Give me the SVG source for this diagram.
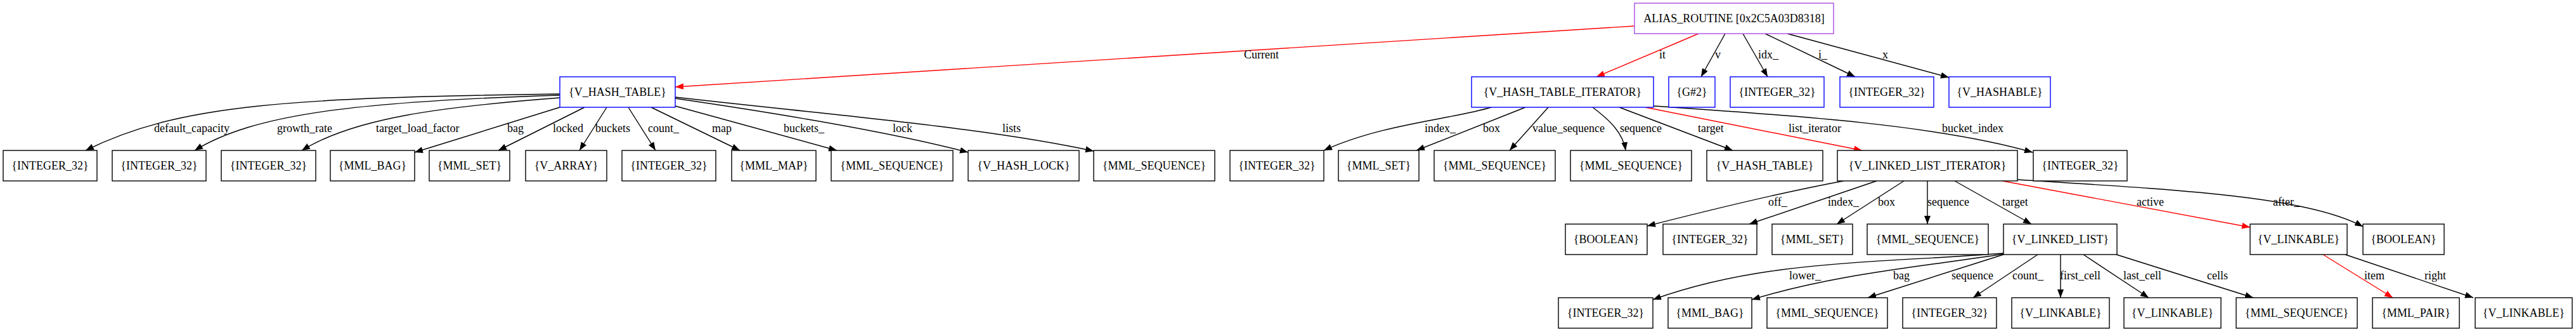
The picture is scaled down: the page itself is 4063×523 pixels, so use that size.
<svg xmlns="http://www.w3.org/2000/svg" width="4063" height="523" viewBox="0 0 4063 523">
<style>
text{font-family:"Liberation Serif","Times New Roman",serif;font-size:18px;fill:#000}
.n rect{fill:#fff;stroke:#000;stroke-width:1.4}
.b rect{stroke:#0000ff}
.p rect{stroke:#a84ee0}
.n text{text-anchor:middle}
.e path{fill:none;stroke:#000;stroke-width:1.4;marker-end:url(#ab)}
.e path.r{stroke:#ff0000;marker-end:url(#ar)}
</style>
<defs>
<marker id="ab" markerUnits="userSpaceOnUse" markerWidth="14" markerHeight="10" refX="13" refY="5" orient="auto"><path d="M0,0 L13,5 L0,10 z" fill="#000"/></marker>
<marker id="ar" markerUnits="userSpaceOnUse" markerWidth="14" markerHeight="10" refX="13" refY="5" orient="auto"><path d="M0,0 L13,5 L0,10 z" fill="#ff0000"/></marker>
</defs>
<rect width="4063" height="523" fill="#fff"/>
<g id="edges" class="e">
<path class="r" d="M2578,41 L1065,137"/>
<path class="r" d="M2679,53 L2518,121"/>
<path d="M2721,53 L2683,121"/>
<path d="M2749,53 L2788,121"/>
<path d="M2784,53 L2926,121"/>
<path d="M2819,53 L3074,122"/>
<path d="M883,148 C450,154 280,165 135,237"/>
<path d="M883,150 C560,160 400,180 307,237"/>
<path d="M883,154 C700,168 560,185 476,237"/>
<path d="M883,169 L654,240"/>
<path d="M922,169 L786,237"/>
<path d="M957,169 L914,237"/>
<path d="M991,169 L1034,237"/>
<path d="M1027,169 L1167,237"/>
<path d="M1065,167 L1320,237"/>
<path d="M1065,155 C1250,182 1420,212 1527,240"/>
<path d="M1065,153 C1300,180 1550,200 1725,238"/>
<path d="M2352,169 C2290,188 2180,195 2088,237"/>
<path d="M2406,169 L2234,237"/>
<path d="M2442,169 L2381,237"/>
<path d="M2512,169 C2540,190 2560,210 2564,237"/>
<path d="M2554,169 L2733,237"/>
<path class="r" d="M2595,169 L2937,237"/>
<path d="M2608,167 C2800,180 3050,195 3206,240"/>
<path d="M2908,285 C2800,305 2680,335 2598,356"/>
<path d="M2960,285 L2759,353"/>
<path d="M3003,285 L2897,353"/>
<path d="M3040,285 L3040,353"/>
<path d="M3083,285 L3204,353"/>
<path class="r" d="M3158,285 L3549,358"/>
<path d="M3182,283 C3450,300 3640,310 3727,357"/>
<path d="M3160,399 C2950,415 2780,410 2607,472"/>
<path d="M3160,400 C3050,418 2900,430 2763,472"/>
<path d="M3160,401 L2946,469"/>
<path d="M3214,401 L3112,469"/>
<path d="M3250,401 L3250,469"/>
<path d="M3286,401 L3389,469"/>
<path d="M3338,401 L3554,469"/>
<path class="r" d="M3664,401 L3774,469"/>
<path d="M3699,401 L3901,469"/>
</g>
<g id="edge-labels">
<text x="1962" y="92">Current</text>
<text x="2617" y="92">it</text>
<text x="2705" y="92">v</text>
<text x="2773" y="92">idx_</text>
<text x="2868" y="92">i_</text>
<text x="2969" y="92">x</text>
<text x="243" y="208">default_capacity</text>
<text x="437" y="208">growth_rate</text>
<text x="593" y="208">target_load_factor</text>
<text x="800" y="208">bag</text>
<text x="872" y="208">locked</text>
<text x="939" y="208">buckets</text>
<text x="1022" y="208">count_</text>
<text x="1123" y="208">map</text>
<text x="1236" y="208">buckets_</text>
<text x="1408" y="208">lock</text>
<text x="1581" y="208">lists</text>
<text x="2247" y="208">index_</text>
<text x="2339" y="208">box</text>
<text x="2417" y="208">value_sequence</text>
<text x="2555" y="208">sequence</text>
<text x="2678" y="208">target</text>
<text x="2821" y="208">list_iterator</text>
<text x="3063" y="208">bucket_index</text>
<text x="2789" y="324">off_</text>
<text x="2883" y="324">index_</text>
<text x="2962" y="324">box</text>
<text x="3040" y="324">sequence</text>
<text x="3158" y="324">target</text>
<text x="3370" y="324">active</text>
<text x="3585" y="324">after_</text>
<text x="2822" y="440">lower_</text>
<text x="2986" y="440">bag</text>
<text x="3078" y="440">sequence</text>
<text x="3174" y="440">count_</text>
<text x="3249" y="440">first_cell</text>
<text x="3349" y="440">last_cell</text>
<text x="3481" y="440">cells</text>
<text x="3729" y="440">item</text>
<text x="3824" y="440">right</text>
</g>
<g id="root" class="n p"><rect x="2578" y="5" width="314" height="48"/><text x="2735" y="34.5">ALIAS_ROUTINE [0x2C5A03D8318]</text></g>
<g id="vht" class="n b"><rect x="883" y="121" width="182" height="48"/><text x="974" y="150.5">{V_HASH_TABLE}</text></g>
<g id="vhti" class="n b"><rect x="2321" y="121" width="287" height="48"/><text x="2464.5" y="150.5">{V_HASH_TABLE_ITERATOR}</text></g>
<g id="g2" class="n b"><rect x="2632" y="121" width="73" height="48"/><text x="2668.5" y="150.5">{G#2}</text></g>
<g id="idx" class="n b"><rect x="2729" y="121" width="148" height="48"/><text x="2803" y="150.5">{INTEGER_32}</text></g>
<g id="iv" class="n b"><rect x="2902" y="121" width="148" height="48"/><text x="2976" y="150.5">{INTEGER_32}</text></g>
<g id="xv" class="n b"><rect x="3074" y="121" width="160" height="48"/><text x="3154" y="150.5">{V_HASHABLE}</text></g>
<g id="r3a" class="n"><rect x="5" y="237" width="148" height="48"/><text x="79" y="266.5">{INTEGER_32}</text></g>
<g id="r3b" class="n"><rect x="177" y="237" width="148" height="48"/><text x="251" y="266.5">{INTEGER_32}</text></g>
<g id="r3c" class="n"><rect x="349" y="237" width="149" height="48"/><text x="423.5" y="266.5">{INTEGER_32}</text></g>
<g id="r3d" class="n"><rect x="521" y="237" width="133" height="48"/><text x="587.5" y="266.5">{MML_BAG}</text></g>
<g id="r3e" class="n"><rect x="677" y="237" width="127" height="48"/><text x="740.5" y="266.5">{MML_SET}</text></g>
<g id="r3f" class="n"><rect x="829" y="237" width="128" height="48"/><text x="893" y="266.5">{V_ARRAY}</text></g>
<g id="r3g" class="n"><rect x="981" y="237" width="148" height="48"/><text x="1055" y="266.5">{INTEGER_32}</text></g>
<g id="r3h" class="n"><rect x="1154" y="237" width="133" height="48"/><text x="1220.5" y="266.5">{MML_MAP}</text></g>
<g id="r3i" class="n"><rect x="1311" y="237" width="192" height="48"/><text x="1407" y="266.5">{MML_SEQUENCE}</text></g>
<g id="r3j" class="n"><rect x="1527" y="237" width="175" height="48"/><text x="1614.5" y="266.5">{V_HASH_LOCK}</text></g>
<g id="r3k" class="n"><rect x="1725" y="237" width="191" height="48"/><text x="1820.5" y="266.5">{MML_SEQUENCE}</text></g>
<g id="r3l" class="n"><rect x="1940" y="237" width="148" height="48"/><text x="2014" y="266.5">{INTEGER_32}</text></g>
<g id="r3m" class="n"><rect x="2111" y="237" width="127" height="48"/><text x="2174.5" y="266.5">{MML_SET}</text></g>
<g id="r3n" class="n"><rect x="2262" y="237" width="191" height="48"/><text x="2357.5" y="266.5">{MML_SEQUENCE}</text></g>
<g id="r3o" class="n"><rect x="2477" y="237" width="191" height="48"/><text x="2572.5" y="266.5">{MML_SEQUENCE}</text></g>
<g id="r3p" class="n"><rect x="2692" y="237" width="183" height="48"/><text x="2783.5" y="266.5">{V_HASH_TABLE}</text></g>
<g id="lli" class="n"><rect x="2898" y="237" width="284" height="48"/><text x="3040" y="266.5">{V_LINKED_LIST_ITERATOR}</text></g>
<g id="r3r" class="n"><rect x="3207" y="237" width="148" height="48"/><text x="3281" y="266.5">{INTEGER_32}</text></g>
<g id="r4a" class="n"><rect x="2469" y="353" width="129" height="48"/><text x="2533.5" y="382.5">{BOOLEAN}</text></g>
<g id="r4b" class="n"><rect x="2623" y="353" width="148" height="48"/><text x="2697" y="382.5">{INTEGER_32}</text></g>
<g id="r4c" class="n"><rect x="2795" y="353" width="127" height="48"/><text x="2858.5" y="382.5">{MML_SET}</text></g>
<g id="r4d" class="n"><rect x="2945" y="353" width="191" height="48"/><text x="3040.5" y="382.5">{MML_SEQUENCE}</text></g>
<g id="vll" class="n"><rect x="3160" y="353" width="179" height="48"/><text x="3249.5" y="382.5">{V_LINKED_LIST}</text></g>
<g id="vlk" class="n"><rect x="3549" y="353" width="153" height="48"/><text x="3625.5" y="382.5">{V_LINKABLE}</text></g>
<g id="r4g" class="n"><rect x="3727" y="353" width="128" height="48"/><text x="3791" y="382.5">{BOOLEAN}</text></g>
<g id="r5a" class="n"><rect x="2458" y="469" width="149" height="48"/><text x="2532.5" y="498.5">{INTEGER_32}</text></g>
<g id="r5b" class="n"><rect x="2631" y="469" width="132" height="48"/><text x="2697" y="498.5">{MML_BAG}</text></g>
<g id="r5c" class="n"><rect x="2787" y="469" width="190" height="48"/><text x="2882" y="498.5">{MML_SEQUENCE}</text></g>
<g id="r5d" class="n"><rect x="3001" y="469" width="148" height="48"/><text x="3075" y="498.5">{INTEGER_32}</text></g>
<g id="r5e" class="n"><rect x="3173" y="469" width="154" height="48"/><text x="3250" y="498.5">{V_LINKABLE}</text></g>
<g id="r5f" class="n"><rect x="3350" y="469" width="153" height="48"/><text x="3426.5" y="498.5">{V_LINKABLE}</text></g>
<g id="r5g" class="n"><rect x="3527" y="469" width="191" height="48"/><text x="3622.5" y="498.5">{MML_SEQUENCE}</text></g>
<g id="r5h" class="n"><rect x="3742" y="469" width="137" height="48"/><text x="3810.5" y="498.5">{MML_PAIR}</text></g>
<g id="r5i" class="n"><rect x="3904" y="469" width="153" height="48"/><text x="3980.5" y="498.5">{V_LINKABLE}</text></g>
</svg>
